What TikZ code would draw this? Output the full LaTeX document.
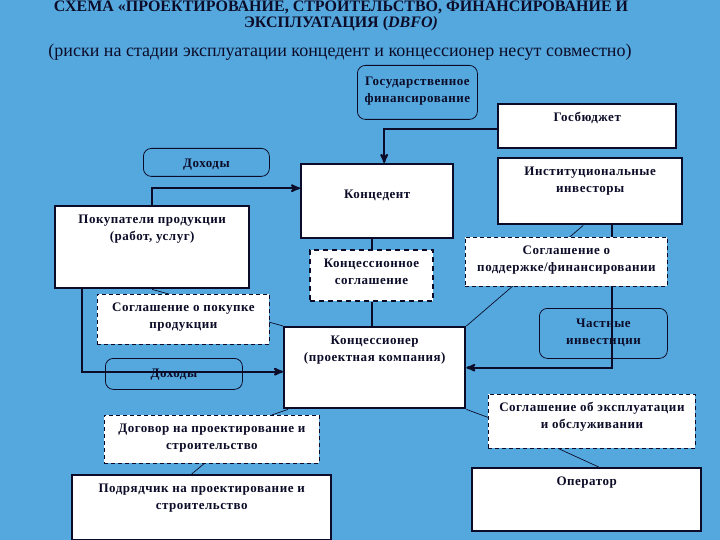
\documentclass[tikz,border=0pt]{standalone}
\usepackage{fontspec}
\setmainfont{Liberation Serif}
\newfontfamily\boxfont[LetterSpace=4]{Liberation Serif}
\usetikzlibrary{arrows}
\usetikzlibrary{positioning}
\pgfdeclarelayer{bg}
\pgfsetlayers{bg,main}
\definecolor{ink}{RGB}{12,12,40}
\definecolor{skyedge}{RGB}{84,168,222}
\definecolor{skymid}{RGB}{98,198,247}
\tikzset{
    block/.style={
           rectangle,
           draw=ink, line width=2.4pt,
           fill=white,
           inner sep=0pt,
           text=ink,
           font=\boxfont\bfseries\fontsize{13}{17}\selectfont,
           },
    deal/.style={
           block,
           line width=0.8pt,
           dash pattern=on 4pt off 3pt,
           },
    flow/.style={
           rectangle,
           rounded corners=8pt,
           draw=ink, line width=0.8pt,
           inner sep=0pt,
           text=ink,
           font=\boxfont\bfseries\fontsize{13}{17}\selectfont,
           },
    feed/.style={draw=ink, line width=2pt},
    link/.style={draw=ink, line width=0.7pt},
}
\newcommand{\boxtxt}[4][17pt]{\parbox[c][#3][t]{#2}{\centering\rule{0pt}{#1}#4}}

\begin{document}
\begin{tikzpicture}[x=1pt,y=-1pt,>=stealth']
 \useasboundingbox (0,0) rectangle (720,540);
 \begin{pgfonlayer}{bg}
  \shade[left color=skyedge, middle color=skymid, right color=skyedge]
    (0,0) rectangle (720,540);
  % rounded boxes stay under the lines
  \node[flow, anchor=north west] (gosfin) at (357,65)
    {\boxtxt[20pt]{120pt}{54pt}{Государственное\\финансирование}};
  \node[flow, anchor=north west] (incometop) at (143,148)
    {\boxtxt[19pt]{126pt}{28pt}{Доходы}};
  \node[flow, anchor=north west] (private) at (539,308)
    {\boxtxt[19pt]{128pt}{50pt}{Частные\\инвестиции}};
  \node[flow, anchor=north west] (incomelow) at (105,358)
    {\boxtxt[19pt]{137pt}{31pt}{Доходы}};
 \end{pgfonlayer}

 % headings
 \node[text=ink, align=center, inner sep=0pt,
   font=\bfseries\fontsize{16}{16}\selectfont] (title) at (341,16)
   {СХЕМА «ПРОЕКТИРОВАНИЕ, СТРОИТЕЛЬСТВО, ФИНАНСИРОВАНИЕ И\\
    ЭКСПЛУАТАЦИЯ (\textit{DBFO)}};
 \node[text=ink, inner sep=0pt, font=\fontsize{18}{20}\selectfont]
   (subtitle) at (340,52)
   {(риски на стадии эксплуатации концедент и концессионер несут совместно)};

 % parties and agreements
 \node[block, anchor=north west] (budget) at (497,103)
   {\boxtxt{178pt}{44pt}{Госбюджет}};
 \node[block, anchor=north west] (investors) at (497,157)
   {\boxtxt{184pt}{66pt}{Институциональные\\инвесторы}};
 \node[deal, anchor=north west] (support) at (465,237)
   {\boxtxt{202pt}{49pt}{Соглашение о\\поддержке/финансировании}};
 \node[block, anchor=north west] (grantor) at (300,163)
   {\boxtxt[34pt]{152pt}{74pt}{Концедент}};
 \node[block, anchor=north west] (buyers) at (54,205)
   {\boxtxt{194pt}{82pt}{Покупатели продукции\\(работ, услуг)}};
 \node[deal, line width=2pt, dash pattern=on 5pt off 4pt, anchor=north west]
   (agreement) at (309,249)
   {\boxtxt{123pt}{51pt}{Концессионное\\соглашение}};
 \node[block, anchor=north west] (spv) at (283,326)
   {\boxtxt{181pt}{81pt}{Концессионер\\(проектная компания)}};
 \node[deal, anchor=north west] (purchase) at (97,294)
   {\boxtxt{172pt}{50pt}{Соглашение о покупке\\продукции}};
 \node[deal, anchor=north west] (dbcontract) at (104,415)
   {\boxtxt{215pt}{48pt}{Договор на проектирование и\\строительство}};
 \node[block, anchor=north west] (builder) at (71,474)
   {\boxtxt{259pt}{65pt}{Подрядчик на проектирование и\\строительство}};
 \node[deal, anchor=north west] (omcontract) at (488,394)
   {\boxtxt{207pt}{54pt}{Соглашение об эксплуатации\\и обслуживании}};
 \node[block, anchor=north west] (operator) at (471,467)
   {\boxtxt{229pt}{63pt}{Оператор}};

 % lines go under the white boxes
 \begin{pgfonlayer}{bg}
  \draw[feed,->] ([yshift=-3pt]budget.west) -| ([xshift=7pt]grantor.north);
  \draw[feed,->] (buyers.north) |- ([yshift=13pt]grantor.west);
  \draw[feed] (agreement.north) -- (agreement.north |- grantor.south);
  \draw[feed] (agreement.south) -- (agreement.south |- spv.north);
  \draw[feed,->] ([xshift=22pt]investors.south) |- (spv.east);
  \draw[feed,->] ([xshift=28pt]buyers.south west) |- ([yshift=-4pt]spv.west);
  \draw[link] (buyers.south) -- (spv.north west);
  \draw[link] ([xshift=-7pt]investors.south) -- (spv.north east);
  \draw[link] ([xshift=5pt]spv.south west) -- ([xshift=-48pt]dbcontract.north east);
  \draw[link] ([xshift=-8pt]dbcontract.south) -- ([xshift=-10pt]builder.north);
  \draw[link] (spv.south east) -- ([yshift=4pt]omcontract.west);
  \draw[link] ([xshift=-33pt]omcontract.south) -- ([xshift=12pt]operator.north);
 \end{pgfonlayer}
\end{tikzpicture}
\end{document}
